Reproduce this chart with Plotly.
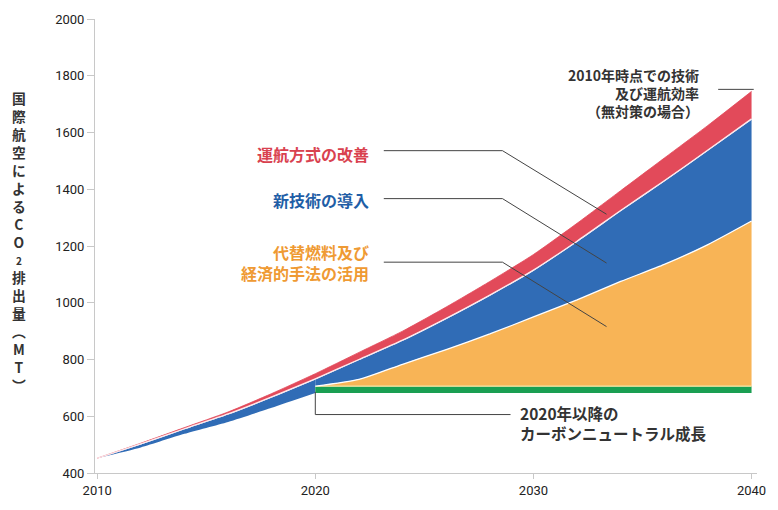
import plotly.graph_objects as go

# years and stack boundaries (MT CO2)
years = [2010, 2012, 2014, 2016, 2018, 2020, 2022, 2024, 2026, 2028,
         2030, 2032, 2034, 2036, 2038, 2040]
years_pre = years[:6]
years_post = years[5:]

# no-action trajectory (top of red)
no_action = [452, 505, 560, 615, 680, 750, 825, 900, 985, 1075,
             1170, 1280, 1395, 1510, 1625, 1745]
# after operational improvements (top of blue)
after_ops = [452, 503, 556, 608, 668, 732, 800, 868, 945, 1027,
             1115, 1217, 1325, 1430, 1538, 1648]
# actual emissions up to 2020 (bottom of blue before 2020)
actual_pre = [452, 490, 538, 580, 630, 682]
# after new technology (top of orange), from 2020
after_tech = [706, 730, 783, 835, 890, 950, 1010, 1075, 1135, 1205, 1288]
# carbon neutral growth line and green band top, from 2020
cng_line = [682] * len(years_post)
green_top = [706] * len(years_post)

RED = "#E24A5A"
BLUE = "#306CB6"
ORANGE = "#F8B456"
GREEN = "#1A9F52"
JP = "Noto Sans CJK JP"

fig = go.Figure()
nol = dict(width=0, color="rgba(0,0,0,0)", shape="spline", smoothing=0.6)


def edge(color, width):
    return dict(color=color, width=width, shape="spline", smoothing=0.6)


# pre-2020 blue wedge
fig.add_trace(go.Scatter(x=years_pre, y=actual_pre, mode="lines", line=nol,
                         hoverinfo="skip"))
fig.add_trace(go.Scatter(x=years_pre, y=after_ops[:6], mode="lines",
                         line=edge("white", 1.3),
                         fill="tonexty", fillcolor=BLUE, hoverinfo="skip"))
# post-2020 stack
fig.add_trace(go.Scatter(x=years_post, y=cng_line, mode="lines", line=nol,
                         hoverinfo="skip"))
fig.add_trace(go.Scatter(x=years_post, y=green_top, mode="lines",
                         line=edge("#F2E6A6", 1.2),
                         fill="tonexty", fillcolor=GREEN, hoverinfo="skip"))
fig.add_trace(go.Scatter(x=years_post, y=after_tech, mode="lines",
                         line=edge("white", 1.3),
                         fill="tonexty", fillcolor=ORANGE, hoverinfo="skip"))
fig.add_trace(go.Scatter(x=years_post, y=after_ops[5:], mode="lines",
                         line=edge("white", 1.3),
                         fill="tonexty", fillcolor=BLUE, hoverinfo="skip"))
# red band on top
fig.add_trace(go.Scatter(x=years, y=after_ops, mode="lines", line=nol,
                         hoverinfo="skip"))
fig.add_trace(go.Scatter(x=years, y=no_action, mode="lines",
                         line=edge(RED, 0.8),
                         fill="tonexty", fillcolor=RED, hoverinfo="skip"))
# separator between red and blue drawn again on top
fig.add_trace(go.Scatter(x=years, y=after_ops, mode="lines",
                         line=edge("#FCE8EC", 1.3), hoverinfo="skip"))

# leader lines
leaders = [
    ([2023.14, 2028.58, 2033.35], [1536, 1536, 1312]),
    ([2023.14, 2028.58, 2033.35], [1367, 1367, 1140]),
    ([2023.14, 2028.58, 2033.35], [1143, 1143, 916]),
    ([2038.47, 2040.1], [1752, 1752]),
    ([2020.0, 2020.0, 2028.95], [686, 606, 606]),
]
for lx, ly in leaders:
    fig.add_trace(go.Scatter(x=lx, y=ly, mode="lines",
                             line=dict(color="#444444", width=1),
                             hoverinfo="skip"))

ann = [
    dict(x=2022.55, y=1525, text="運航方式の改善", color="#D9424F", size=16,
         xanchor="right", align="right"),
    dict(x=2022.55, y=1363, text="新技術の導入", color="#1F5EA6", size=16,
         xanchor="right", align="right"),
    dict(x=2022.55, y=1143, text="代替燃料及び<br>経済的手法の活用", color="#EF9A33",
         size=16, xanchor="right", align="right"),
    dict(x=2037.7, y=1738, text="2010年時点での技術<br>及び運航効率<br>（無対策の場合）",
         color="#333333", size=14, xanchor="right", align="right"),
    dict(x=2029.3, y=577, text="2020年以降の<br>カーボンニュートラル成長",
         color="#333333", size=15.5, xanchor="left", align="left"),
]
for a in ann:
    fig.add_annotation(x=a["x"], y=a["y"], xref="x", yref="y", text=a["text"],
                       showarrow=False, xanchor=a["xanchor"], yanchor="middle",
                       align=a["align"],
                       font=dict(family=JP, size=a["size"], color=a["color"],
                                 weight="bold"))

# vertical (tategaki) axis title
title_chars = ["国", "際", "航", "空", "に", "よ", "る", "C", "O",
               "<span style='font-size:10px'>2</span>", "排", "出", "量",
               "︵", "M", "T", "︶"]
fig.add_annotation(x=-0.115, y=0.51, xref="paper", yref="paper",
                   text="<br>".join(title_chars), showarrow=False,
                   xanchor="center", yanchor="middle", align="center",
                   font=dict(family=JP, size=13.8, color="#333333", weight="bold"))

fig.update_layout(
    width=778, height=510,
    margin=dict(l=95, r=15, t=12, b=33),
    paper_bgcolor="white", plot_bgcolor="white",
    showlegend=False,
    font=dict(family="Liberation Sans Narrow, Roboto, sans-serif", color="#222222"),
)
fig.update_xaxes(range=[2009.9, 2040.25], tickvals=[2010, 2020, 2030, 2040],
                 showgrid=False, zeroline=False, showline=True, linecolor="#C8C8C8",
                 ticks="outside", ticklen=5, tickcolor="#C8C8C8",
                 tickfont=dict(size=13, color="#222222"))
fig.update_yaxes(range=[400, 2000], tickvals=[400, 600, 800, 1000, 1200, 1400,
                                              1600, 1800, 2000],
                 showgrid=False, zeroline=False, showline=True, linecolor="#C8C8C8",
                 ticks="outside", ticklen=7, tickcolor="#C8C8C8",
                 tickfont=dict(size=13, color="#222222"))

# drop the default body margin so the 778x510 figure fills the window exactly
fig.write_html("out.html", config={"displayModeBar": False},
               post_script="document.body.style.margin='0';"
                           "document.body.style.overflow='hidden';")
